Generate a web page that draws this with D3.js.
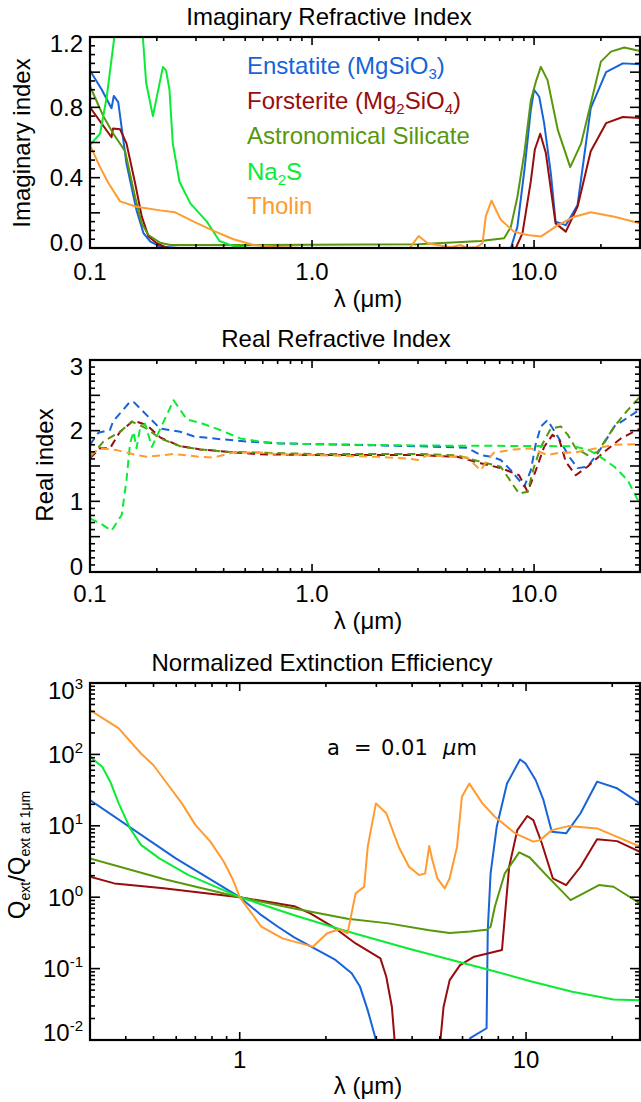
<!DOCTYPE html>
<html>
<head>
<meta charset="utf-8">
<script src="https://cdn.jsdelivr.net/npm/d3@7"></script>
<style>
body{margin:0;background:#fff}
text{font-family:"Liberation Sans",Arial,Helvetica,sans-serif;fill:#000}
</style>
</head>
<body>
<div id="chart"></div>
<script>
//Data
const materials = ['Enstatite', 'Forsterite', 'Astronomical Silicate', 'Na2S', 'Tholin']

// legend labels: [text, isSubscript]
const legendParts = [
    [['Enstatite (MgSiO', 0], ['3', 1], [')', 0]],
    [['Forsterite (Mg', 0], ['2', 1], ['SiO', 0], ['4', 1], [')', 0]],
    [['Astronomical Silicate', 0]],
    [['Na', 0], ['2', 1], ['S', 0]],
    [['Tholin', 0]]
]

// imaginary index, [lambda um, k]
const imagEnstatite = [[0.1,1.01],[0.113,0.9],[0.125,0.795],[0.128,0.865],[0.134,0.83],[0.146,0.48],[0.162,0.215],[0.174,0.085],[0.187,0.036],[0.207,0.008],[0.25,0],[7.86,0],[8.41,0.12],[9.04,0.44],[9.67,0.785],[10.0,0.90],[10.55,0.86],[11.1,0.71],[11.9,0.425],[12.5,0.15],[13.9,0.13],[15.7,0.245],[18.0,0.795],[21.1,1.0],[25.1,1.05],[30,1.045]]
const imagForsterite = [[0.1,0.80],[0.125,0.63],[0.127,0.68],[0.1366,0.675],[0.146,0.595],[0.1596,0.37],[0.171,0.18],[0.1834,0.065],[0.2,0.027],[0.222,0],[8.28,0],[8.87,0.085],[9.67,0.38],[10.08,0.56],[10.66,0.65],[11.3,0.54],[12.5,0.14],[13.9,0.093],[15.7,0.235],[18.0,0.55],[21.1,0.71],[25.1,0.745],[30,0.74]]
const imagAstroSil = [[0.1,0.92],[0.1148,0.75],[0.1274,0.65],[0.1439,0.55],[0.1596,0.29],[0.171,0.14],[0.1834,0.074],[0.207,0.03],[0.2296,0.017],[1.0,0.018],[3.0,0.022],[5.75,0.04],[7.33,0.055],[7.86,0.12],[8.41,0.29],[9.04,0.54],[9.67,0.84],[10.19,0.946],[10.73,1.03],[11.5,0.955],[12.8,0.67],[14.55,0.46],[16.3,0.595],[18.0,0.82],[20.0,1.06],[22.2,1.117],[25.5,1.14],[30,1.12]]
const imagNa2S = [[0.1,0.585],[0.111,0.65],[0.119,0.86],[0.1287,1.2],[0.133,1.4],[0.168,1.4],[0.173,1.2],[0.179,0.94],[0.192,0.75],[0.213,1.03],[0.22,1.01],[0.228,0.9],[0.236,0.595],[0.253,0.377],[0.283,0.254],[0.336,0.15],[0.383,0.04],[0.443,0.011],[0.527,0],[30,0]]
const imagTholin = [[0.1,0.585],[0.111,0.46],[0.121,0.37],[0.1366,0.265],[0.162,0.235],[0.207,0.214],[0.242,0.203],[0.293,0.15],[0.36,0.097],[0.443,0.05],[0.546,0.017],[0.696,0.005],[0.9,0],[2.75,0],[3.02,0.068],[3.32,0.027],[4.2,0.004],[4.67,0.017],[4.98,0],[5.5,0.005],[5.86,0.027],[6.06,0.18],[6.43,0.27],[7.08,0.16],[8.13,0.093],[9.35,0.074],[10.73,0.065],[12.8,0.13],[15.2,0.178],[18.0,0.203],[23.0,0.178],[30,0.14]]

// real index, [lambda um, n]
const realEnstatite = [[0.1,1.80],[0.109,1.97],[0.123,2.01],[0.127,2.13],[0.1515,2.41],[0.158,2.40],[0.18,2.22],[0.207,2.03],[0.255,1.985],[0.293,1.92],[0.386,1.88],[0.51,1.845],[0.72,1.82],[1.0,1.81],[3.0,1.78],[4.98,1.76],[5.75,1.655],[6.42,1.63],[7.08,1.585],[7.86,1.44],[9.04,1.21],[9.67,1.44],[10.19,1.82],[10.73,2.06],[11.5,2.15],[12.8,1.915],[14.4,1.63],[15.7,1.47],[17.4,1.49],[19.35,1.68],[23,2.06],[30,2.3]]
const realForsterite = [[0.1,1.61],[0.111,1.75],[0.123,1.75],[0.1366,1.985],[0.157,2.14],[0.18,2.08],[0.207,1.905],[0.255,1.78],[0.314,1.735],[0.414,1.70],[0.585,1.665],[1.0,1.655],[3.0,1.655],[4.5,1.63],[5.75,1.54],[7.08,1.47],[8.56,1.37],[9.35,1.135],[10.19,1.44],[11.1,1.77],[12.1,1.94],[13.0,1.87],[13.9,1.56],[15.4,1.37],[17.4,1.49],[20.7,1.70],[24.6,1.89],[30,2.03]]
const realAstroSil = [[0.1,1.62],[0.1148,1.845],[0.1366,1.985],[0.154,2.13],[0.18,2.03],[0.207,1.89],[0.255,1.78],[0.314,1.735],[0.414,1.70],[0.585,1.69],[1.0,1.67],[3.0,1.67],[4.5,1.65],[5.75,1.56],[7.08,1.49],[7.86,1.28],[8.56,1.11],[9.35,1.135],[10.0,1.49],[10.73,1.77],[11.9,2.03],[13.2,2.06],[14.2,1.94],[15.4,1.75],[17.4,1.655],[19.35,1.70],[23,2.06],[26.4,2.29],[30,2.48]]
const realNa2S = [[0.1,0.76],[0.111,0.69],[0.125,0.585],[0.139,0.81],[0.146,1.30],[0.1515,1.82],[0.157,1.985],[0.162,1.75],[0.168,2.03],[0.177,2.10],[0.19,1.77],[0.211,2.08],[0.238,2.43],[0.273,2.16],[0.314,2.11],[0.386,2.01],[0.475,1.89],[0.585,1.845],[0.72,1.82],[1.0,1.81],[3.0,1.79],[15,1.78],[17.4,1.735],[19.35,1.655],[23,1.49],[26.4,1.30],[29.3,1.02],[30,0.98]]
const realTholin = [[0.1,1.655],[0.111,1.75],[0.132,1.725],[0.157,1.665],[0.18,1.63],[0.238,1.67],[0.314,1.63],[0.36,1.62],[0.443,1.69],[0.585,1.69],[0.72,1.665],[1.0,1.655],[2.0,1.63],[2.8,1.60],[3.0,1.585],[3.3,1.65],[5.0,1.62],[5.75,1.44],[6.17,1.585],[6.6,1.69],[8.13,1.735],[9.67,1.75],[11.5,1.655],[13.2,1.69],[15.2,1.69],[18,1.735],[23,1.80],[30,1.81]]

// normalized extinction efficiency, [lambda um, Q/Q(1um)]
const qEnstatite = [[0.3,23],[0.598,3.5],[1.0,1.0],[1.19,0.56],[1.36,0.386],[1.55,0.274],[1.83,0.19],[2.16,0.132],[2.46,0.086],[2.63,0.056],[2.80,0.026],[2.98,0.0106],[3.1,0.005],[6.2,0.005],[6.38,0.0106],[7.28,0.0146],[7.35,0.35],[7.52,2.16],[7.90,9.7],[8.58,39],[9.53,85],[9.95,75],[10.8,43.8],[11.5,23],[12.3,8.27],[13.8,7.85],[15.5,15],[17.7,41.5],[20.8,33.5],[25,20.6]]
const qForsterite = [[0.3,1.94],[0.365,1.56],[0.542,1.33],[1.0,1.0],[1.55,0.748],[1.77,0.59],[2.16,0.365],[2.54,0.225],[3.10,0.139],[3.25,0.077],[3.40,0.029],[3.47,0.0106],[3.52,0.004],[4.98,0.004],[5.03,0.0106],[5.15,0.029],[5.41,0.069],[5.88,0.112],[6.59,0.147],[8.24,0.182],[8.43,0.53],[8.73,2.67],[9.32,8.7],[10.1,13.7],[10.6,12],[11.35,5.7],[12.4,1.84],[13.8,1.48],[15.5,2.67],[17.7,6.5],[20.8,6.1],[25,4.3]]
const qAstroSil = [[0.3,3.5],[0.542,1.80],[1.0,1.0],[1.55,0.695],[2.38,0.50],[3.31,0.43],[4.59,0.345],[5.41,0.316],[6.38,0.33],[7.28,0.35],[7.52,0.386],[7.78,0.736],[8.43,2.16],[9.46,4.25],[10.3,3.6],[11.9,1.94],[14.3,0.91],[15.5,1.08],[17.97,1.48],[20.2,1.40],[25,0.82]]
const qNa2S = [[0.3,93],[0.331,67],[0.353,41.5],[0.378,20.6],[0.414,9.2],[0.452,5.4],[0.524,3.5],[0.66,2.05],[1.0,1.0],[1.55,0.56],[2.38,0.33],[3.9,0.19],[7.52,0.095],[10.45,0.066],[14.5,0.0475],[20.2,0.037],[25,0.036]]
const qTholin = [[0.3,419],[0.378,232],[0.452,103],[0.499,71],[0.579,32],[0.628,20.6],[0.70,10.3],[0.79,6.0],[0.88,3.14],[0.948,1.74],[1.0,1.0],[1.19,0.386],[1.41,0.265],[1.80,0.203],[2.02,0.312],[2.23,0.355],[2.38,0.312],[2.54,1.13],[2.72,1.40],[2.80,5.1],[2.99,20.6],[3.25,15],[3.59,5.1],[3.90,2.67],[4.23,2.05],[4.44,2.14],[4.59,5.2],[4.71,3.3],[4.90,1.84],[5.20,1.33],[5.41,1.84],[5.74,5.1],[5.97,25.5],[6.34,39],[7.04,20.6],[7.78,13.4],[9.16,7.85],[10.6,6.0],[11.2,6.3],[12.3,8.7],[14.05,9.9],[17.7,9.2],[20.8,7.0],[25,5.1]]

// tick labels
const refrXTicks = [0.1, 1, 10]
const refrXLabels = ['0.1', '1.0', '10.0']
const imagYTicks = [0, 0.4, 0.8, 1.2]
const imagYLabels = ['0.0', '0.4', '0.8', '1.2']
const realYTicks = [0, 1, 2, 3]
const realYLabels = ['0', '1', '2', '3']
const qXTicks = [1, 10]
const qXLabels = ['1', '10']
const qYExponents = [-2, -1, 0, 1, 2, 3]

function draw(){
    const colors = ['#1664d8', '#980c0c', '#58970b', '#0aec34', '#ff9b30']

    let dimensions = {
        width: 641,
        height: 1102,
        left: 90,
        right: 640,
        panels: [
            {top: 37, bottom: 248},
            {top: 360, bottom: 572},
            {top: 683, bottom: 1040}
        ]
    }

    const svg = d3.select('#chart')
        .append('svg')
        .attr('width', dimensions.width)
        .attr('height', dimensions.height)

    const defs = svg.append('defs')
    dimensions.panels.forEach((p, i) => {
        defs.append('clipPath').attr('id', 'clip' + i)
            .append('rect')
            .attr('x', dimensions.left).attr('y', p.top)
            .attr('width', dimensions.right - dimensions.left)
            .attr('height', p.bottom - p.top)
    })

    // Scales
    const p0 = dimensions.panels[0], p1 = dimensions.panels[1], p2 = dimensions.panels[2]
    const xRefr = d3.scaleLog().domain([0.1, 30]).range([dimensions.left, dimensions.right])
    const yImag = d3.scaleLinear().domain([0, 1.2]).range([p0.bottom, p0.top])
    const yReal = d3.scaleLinear().domain([0, 3]).range([p1.bottom, p1.top])
    const xQ = d3.scaleLog().domain([0.3, 25]).range([dimensions.left, dimensions.right])
    const yQ = d3.scaleLog().domain([1e-2, 1e3]).range([p2.bottom, p2.top])

    // minor ticks
    const logMinor = (lo, hi) => {
        const out = []
        for (let e = -2; e <= 3; e++) for (let k = 2; k <= 9; k++) {
            const v = k * Math.pow(10, e)
            if (v > lo * 1.001 && v < hi * 0.999) out.push(v)
        }
        return out
    }
    const linMinor = (lo, hi, step, major) => d3.range(lo, hi + step / 2, step)
        .filter(v => Math.abs(v / major - Math.round(v / major)) > 1e-6 && v > lo && v < hi)

    // Lines
    function drawLines(series, x, y, clip, dashed){
        const line = d3.line().x(d => x(d[0])).y(d => y(d[1]))
        svg.append('g')
            .attr('clip-path', `url(#${clip})`)
            .selectAll('path')
            .data(series)
            .join('path')
            .attr('d', line)
            .attr('fill', 'none')
            .attr('stroke', (d, i) => colors[i])
            .attr('stroke-width', 2)
            .attr('stroke-dasharray', dashed ? '8,5' : null)
            .attr('stroke-linejoin', 'round')
    }

    drawLines([imagEnstatite, imagForsterite, imagAstroSil, imagNa2S, imagTholin], xRefr, yImag, 'clip0', false)
    drawLines([realEnstatite, realForsterite, realAstroSil, realNa2S, realTholin], xRefr, yReal, 'clip1', true)
    drawLines([qEnstatite, qForsterite, qAstroSil, qNa2S, qTholin], xQ, yQ, 'clip2', false)

    // Frames + ticks
    function frame(p, x, y, xMajor, xMinor, yMajor, yMinor){
        const g = svg.append('g').attr('stroke', '#000').attr('stroke-width', 1.6)
        const L = dimensions.left, R = dimensions.right
        const xt = xMajor.map(v => ({v, len: 8})).concat(xMinor.map(v => ({v, len: 4})))
        const yt = yMajor.map(v => ({v, len: 10})).concat(yMinor.map(v => ({v, len: 5})))
        g.selectAll('.xb').data(xt).join('line').classed('xb', true)
            .attr('x1', d => x(d.v)).attr('x2', d => x(d.v))
            .attr('y1', p.bottom).attr('y2', d => p.bottom - d.len)
        g.selectAll('.xt').data(xt).join('line').classed('xt', true)
            .attr('x1', d => x(d.v)).attr('x2', d => x(d.v))
            .attr('y1', p.top).attr('y2', d => p.top + d.len)
        g.selectAll('.yl').data(yt).join('line').classed('yl', true)
            .attr('y1', d => y(d.v)).attr('y2', d => y(d.v))
            .attr('x1', L).attr('x2', d => L + d.len)
        g.selectAll('.yr').data(yt).join('line').classed('yr', true)
            .attr('y1', d => y(d.v)).attr('y2', d => y(d.v))
            .attr('x1', R).attr('x2', d => R - d.len)
        svg.append('rect')
            .attr('x', L).attr('y', p.top)
            .attr('width', R - L).attr('height', p.bottom - p.top)
            .attr('fill', 'none').attr('stroke', '#000').attr('stroke-width', 2.2)
    }

    frame(p0, xRefr, yImag, refrXTicks, logMinor(0.1, 30),
        d3.range(0, 1.21, 0.2), linMinor(0, 1.2, 0.05, 0.2))
    frame(p1, xRefr, yReal, refrXTicks, logMinor(0.1, 30),
        d3.range(0, 3.01, 0.5), linMinor(0, 3, 0.1, 0.5))
    frame(p2, xQ, yQ, qXTicks, logMinor(0.3, 25),
        qYExponents.map(e => Math.pow(10, e)), logMinor(0.01, 1000))

    // tick labels
    const txt = (x, y, s, size, anchor) => svg.append('text')
        .attr('x', x).attr('y', y).attr('font-size', size)
        .attr('text-anchor', anchor || 'middle').text(s)

    // edge labels sit a little inside the frame, as in the original
    const edgeShift = (i, n) => i === 0 ? -6 : (i === n - 1 ? 6 : 0)

    refrXTicks.forEach((v, i) => {
        txt(xRefr(v), p0.bottom + 32, refrXLabels[i], 24)
        txt(xRefr(v), p1.bottom + 30, refrXLabels[i], 24)
    })
    qXTicks.forEach((v, i) => txt(xQ(v), p2.bottom + 28, qXLabels[i], 24))
    imagYTicks.forEach((v, i) => txt(83, yImag(v) + 8.5 + edgeShift(i, imagYTicks.length), imagYLabels[i], 24, 'end'))
    realYTicks.forEach((v, i) => txt(83, yReal(v) + 8.5 + edgeShift(i, realYTicks.length), realYLabels[i], 24, 'end'))
    qYExponents.forEach((e, i) => {
        const t = txt(83, yQ(Math.pow(10, e)) + 8.5 + edgeShift(i, qYExponents.length) * 1.3, '10', 24, 'end')
        t.append('tspan').attr('dy', -10).attr('font-size', 15).text(String(e))
    })

    // titles and axis labels
    txt(329, 25, 'Imaginary Refractive Index', 24)
    txt(336, 347, 'Real Refractive Index', 24)
    txt(322, 671, 'Normalized Extinction Efficiency', 24)
    txt(368, p0.bottom + 59, 'λ (μm)', 24)
    txt(368, p1.bottom + 57, 'λ (μm)', 24)
    txt(368, p2.bottom + 54, 'λ (μm)', 24)

    svg.append('text').attr('transform', 'translate(30,143) rotate(-90)')
        .attr('font-size', 24).attr('text-anchor', 'middle').text('Imaginary index')
    svg.append('text').attr('transform', 'translate(53,465) rotate(-90)')
        .attr('font-size', 24).attr('text-anchor', 'middle').text('Real index')
    const qLabel = svg.append('text').attr('transform', 'translate(25,855) rotate(-90)')
        .attr('font-size', 24).attr('text-anchor', 'middle')
    qLabel.append('tspan').text('Q')
    qLabel.append('tspan').attr('dy', 5).attr('font-size', 14).text('ext')
    qLabel.append('tspan').attr('dy', -5).text('/Q')
    qLabel.append('tspan').attr('dy', 5).attr('font-size', 14).text('ext at 1μm')

    // legend
    const legendY = [74, 108.5, 143.5, 179.5, 213.5]
    legendParts.forEach((parts, i) => {
        const t = svg.append('text').attr('x', 247).attr('y', legendY[i])
            .attr('font-size', 24).style('fill', colors[i])
            .attr('data-name', materials[i])
        let shift = 0
        parts.forEach(([s, sub]) => {
            const dy = sub ? 5 - shift : -shift
            shift = sub ? 5 : 0
            t.append('tspan').attr('dy', dy).attr('font-size', sub ? 15 : 24).text(s)
        })
    })

    // size annotation
    const ann = svg.append('g').attr('font-size', 21)
    const annParts = [['a', 327], ['=', 354], ['0.01', 381]]
    annParts.forEach(([s, x]) => ann.append('text').attr('x', x).attr('y', 755)
        .style('font-family', '"DejaVu Sans",sans-serif').style('fill', '#000').text(s))
    const um = ann.append('text').attr('x', 443).attr('y', 755)
        .style('font-family', '"DejaVu Sans",sans-serif').style('fill', '#000')
    um.append('tspan').attr('font-style', 'italic').text('μ')
    um.append('tspan').text('m')
}
draw()
</script>
</body>
</html>
